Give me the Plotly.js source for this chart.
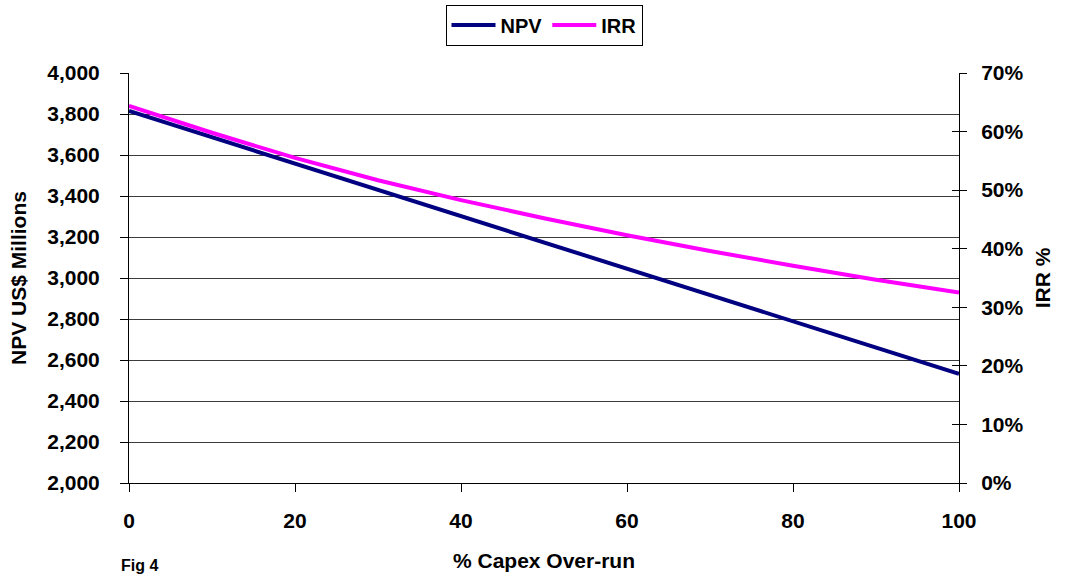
<!DOCTYPE html>
<html>
<head>
<meta charset="utf-8">
<script src="https://cdn.plot.ly/plotly-3.0.1.min.js"></script>
<style>html,body{margin:0;padding:0;background:#fff;}#chart{width:1065px;height:577px;}</style>
</head>
<body>
<div id="chart"></div>
<script>
// Data
const capexOverrun = [0, 10, 20, 30, 40, 50, 60, 70, 80, 90, 100];
const npvMillions = [3815, 3687, 3558, 3430, 3302, 3174, 3045, 2917, 2789, 2660, 2532];
const irrPercent = [64.4, 59.8, 55.5, 51.7, 48.3, 45.2, 42.3, 39.6, 37.1, 34.7, 32.5];
const xTicks = [0, 20, 40, 60, 80, 100];
const npvTicks = [2000, 2200, 2400, 2600, 2800, 3000, 3200, 3400, 3600, 3800, 4000];
const irrTicks = [0, 10, 20, 30, 40, 50, 60, 70];

const F = 'Arial, "Liberation Sans", sans-serif';
const boldFont = (size) => ({family: F, size: size, color: '#000', weight: 'bold'});
const FS = 21;

const traces = [
  {x: capexOverrun, y: npvMillions, name: 'NPV', type: 'scatter', mode: 'lines',
   line: {color: '#000080', width: 4}, yaxis: 'y'},
  {x: capexOverrun, y: irrPercent.map(v => v / 100), name: 'IRR', type: 'scatter', mode: 'lines',
   line: {color: '#FF00FF', width: 4}, yaxis: 'y2'}
];

const layout = {
  width: 1065, height: 577,
  paper_bgcolor: '#fff', plot_bgcolor: '#fff',
  margin: {l: 129, r: 106, t: 73, b: 94},
  showlegend: true,
  legend: {orientation: 'h', x: 0.5, xanchor: 'center', y: 0.992, yanchor: 'top',
           yref: 'container', font: boldFont(20), bordercolor: '#000', borderwidth: 1,
           bgcolor: '#fff', itemwidth: 44, tracegroupgap: 0},
  xaxis: {range: [0, 100], tickvals: xTicks, ticks: 'outside', ticklen: 8, tickcolor: '#000',
          showline: true, linecolor: '#000', linewidth: 1, showgrid: false, zeroline: false,
          tickfont: boldFont(FS), ticklabelstandoff: 11,
          title: {text: '% Capex Over-run', font: boldFont(FS), standoff: 22}},
  yaxis: {range: [2000, 4000], tickvals: npvTicks, tickformat: ',d', ticks: 'outside', ticklen: 8,
          tickcolor: '#000', showline: true, linecolor: '#000', linewidth: 1,
          showgrid: true, gridcolor: '#3c3c3c', gridwidth: 1, zeroline: false,
          tickfont: boldFont(FS), ticklabelstandoff: 16,
          title: {text: 'NPV US$ Millions', font: boldFont(FS), standoff: 14}},
  yaxis2: {range: [0, 0.7], tickvals: irrTicks.map(v => v / 100), tickformat: '.0%',
           overlaying: 'y', side: 'right', ticks: 'outside', ticklen: 7, tickcolor: '#000',
           showline: true, linecolor: '#000', linewidth: 1, showgrid: false, zeroline: false,
           tickfont: boldFont(FS), ticklabelstandoff: 10,
           title: {text: 'IRR %', font: boldFont(FS), standoff: 12}},
  yaxis3: {range: [0, 0.7], tickvals: irrTicks.map(v => v / 100), overlaying: 'y', side: 'right',
           ticks: 'inside', ticklen: 7, tickcolor: '#000', showticklabels: false,
           showline: false, showgrid: false, zeroline: false},
  annotations: [
    {text: 'Fig 4', xref: 'paper', yref: 'paper', x: -0.012, y: -0.226, xanchor: 'left', yanchor: 'bottom',
     showarrow: false, font: {family: '"Liberation Sans", Arial, sans-serif', size: 16, color: '#000', weight: 'bold'}}
  ]
};

traces.push({x: [null], y: [null], yaxis: 'y3', showlegend: false, hoverinfo: 'skip', mode: 'lines'});

Plotly.newPlot('chart', traces, layout, {displayModeBar: false, staticPlot: true});
</script>
</body>
</html>
